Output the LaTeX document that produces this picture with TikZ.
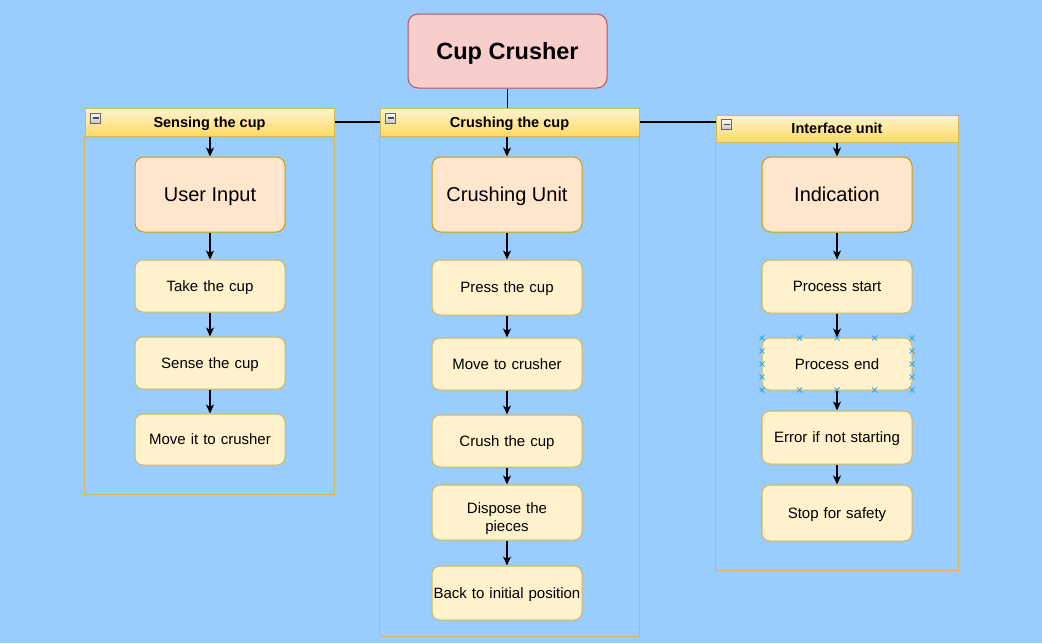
\documentclass[tikz,border=0pt]{standalone}
\usepackage{fontspec}
\setmainfont{Liberation Sans}
\usetikzlibrary{arrows.meta,calc,positioning}
\definecolor{bgblue}{HTML}{99CCFF}
\definecolor{titlefill}{HTML}{F8CECC}
\definecolor{titleline}{HTML}{B85450}
\definecolor{orangefill}{HTML}{FFE6CC}
\definecolor{orangeline}{HTML}{D79B00}
\definecolor{yellowfill}{HTML}{FFF2CC}
\definecolor{yellowline}{HTML}{D6B656}
\definecolor{headtop}{HTML}{FFF4D0}
\definecolor{headbot}{HTML}{FFD966}
\definecolor{selblue}{HTML}{2EA8E6}
\tikzset{
    bigstep/.style={draw=orangeline, fill=orangefill, rounded corners=9pt, line width=1pt,
        minimum width=150pt, minimum height=75pt, text depth=0pt,
        font=\fontsize{20}{24}\selectfont},
    smallstep/.style={draw=yellowline, fill=yellowfill, rounded corners=8pt, line width=1pt,
        minimum width=150pt, text width=146pt, align=center, inner sep=2pt, text depth=0pt,
        font=\fontsize{15}{18}\selectfont},
    lanehead/.style={draw=yellowline, top color=headtop, bottom color=headbot, line width=1pt,
        inner sep=0pt, text depth=0pt, font=\bfseries\fontsize{14.5}{17}\selectfont},
    laneframe/.style={draw=yellowline, line width=1pt},
    minusbox/.style={draw=gray!80!black, top color=white, bottom color=gray!45,
        minimum size=10pt, inner sep=0pt, line width=0.6pt},
    flow/.style={-{Stealth[length=9pt,width=8pt,inset=2.5pt]}, line width=1.3pt},
    link/.style={line width=1.3pt},
    selmark/.style={draw=selblue, line width=0.8pt},
}

\begin{document}
\begin{tikzpicture}[x=1pt,y=-1pt]
   \fill[bgblue] (0,0) rectangle (1042,643);
   \useasboundingbox (0,0) rectangle (1042,643);

   % title
   \node[draw=titleline, fill=titlefill, rounded corners=10pt, line width=1pt,
         minimum width=199pt, minimum height=74pt, text depth=0pt,
         font=\bfseries\fontsize{23.5}{28}\selectfont] (title) at (507.5,51) {Cup Crusher};

   % lanes
   \node[lanehead, minimum width=249pt, minimum height=28pt] (sensehead) at (209.5,122) {Sensing the cup};
   \node[lanehead, minimum width=259pt, minimum height=28pt] (crushhead) at (509.5,122) {Crushing the cup};
   \node[lanehead, minimum width=242pt, minimum height=27pt] (facehead) at (837,128.5) {Interface unit};
   \coordinate (sensebot) at (334,494);
   \coordinate (crushbot) at (639,636);
   \coordinate (facebot) at (958,570);
   \draw[laneframe] (sensehead.south west) rectangle (sensebot);
   \draw[laneframe] (crushhead.south west) rectangle (crushbot);
   \draw[laneframe] (facehead.south west) rectangle (facebot);
   \foreach \h in {sensehead,crushhead,facehead}{
      \node[minusbox] (\h-icon) at ($(\h.west)+(11,-4)$) {};
      \draw[gray!60!black, line width=1.2pt] ($(\h-icon.center)+(-3,0)$) -- ($(\h-icon.center)+(3,0)$);
   }

   % sensing the cup
   \node[bigstep] (userin) at (210,194.5) {User Input};
   \node[smallstep, minimum height=52pt] (take) at (210,286) {Take the cup};
   \node[smallstep, minimum height=52pt] (sense) at (210,363) {Sense the cup};
   \node[smallstep, minimum height=51pt] (moveit) at (210,439.5) {Move it to crusher};

   % crushing the cup
   \node[bigstep] (crunit) at (507,194.5) {Crushing Unit};
   \node[smallstep, minimum height=55pt] (press) at (507,287.5) {Press the cup};
   \node[smallstep, minimum height=52pt] (tocrush) at (507,364) {Move to crusher};
   \node[smallstep, minimum height=52pt] (crush) at (507,441) {Crush the cup};
   \node[smallstep, minimum height=55pt, text depth=8pt] (dispose) at (507,512.5) {Dispose the\\pieces};
   \node[smallstep, minimum height=54pt, text width=150pt, inner xsep=0pt] (back) at (507,593) {\mbox{Back to initial position}};

   % interface unit
   \node[bigstep] (indic) at (837,194.5) {Indication};
   \node[smallstep, minimum height=53pt] (pstart) at (837,286.5) {Process start};
   \node[smallstep, minimum height=52pt] (pend) at (837,364) {Process end};
   \node[smallstep, minimum height=53pt] (perror) at (837,437.5) {Error if not starting};
   \node[smallstep, minimum height=56pt] (pstop) at (837,513) {Stop for safety};

   % links between title and lanes
   \draw[link] (title.south) -- (title.south |- crushhead.north);
   \draw[link] (sensehead.east) -- (crushhead.west);
   \draw[link] (crushhead.east) -- (crushhead.east -| facehead.west);

   % flows
   \draw[flow] (sensehead.south -| userin.north) -- (userin.north);
   \draw[flow] (userin) -- (take);
   \draw[flow] (take) -- (sense);
   \draw[flow] (sense) -- (moveit);

   \draw[flow] (crushhead.south -| crunit.north) -- (crunit.north);
   \draw[flow] (crunit) -- (press);
   \draw[flow] (press) -- (tocrush);
   \draw[flow] (tocrush) -- (crush);
   \draw[flow] (crush) -- (dispose);
   \draw[flow] (dispose) -- (back);

   \draw[flow] (facehead.south -| indic.north) -- (indic.north);
   \draw[flow] (indic) -- (pstart);
   \draw[flow] (pstart) -- (pend);
   \draw[flow] (pend) -- (perror);
   \draw[flow] (perror) -- (pstop);

   % selection marks round Process end
   \foreach \x in {762,799.5,837,874.5,912}{
      \foreach \y in {338,390}{
         \draw[selmark] (\x-2.5,\y-2.5) -- (\x+2.5,\y+2.5) (\x-2.5,\y+2.5) -- (\x+2.5,\y-2.5);
      }
   }
   \foreach \x in {762,912}{
      \foreach \y in {351,364,377}{
         \draw[selmark] (\x-2.5,\y-2.5) -- (\x+2.5,\y+2.5) (\x-2.5,\y+2.5) -- (\x+2.5,\y-2.5);
      }
   }
\end{tikzpicture}
\end{document}
